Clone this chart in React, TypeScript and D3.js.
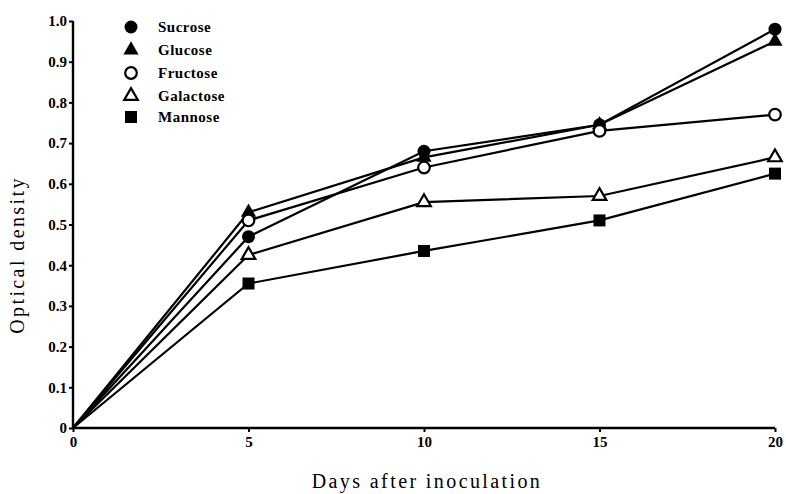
import * as d3 from "d3";
import {useEffect, useRef} from "react";

// days after inoculation
const days = [0, 5, 10, 15, 20];

// optical density per sugar
const sucrose = [0, 0.47, 0.68, 0.745, 0.98];
const glucose = [0, 0.53, 0.665, 0.745, 0.95];
const fructose = [0, 0.51, 0.64, 0.73, 0.77];
const galactose = [0, 0.425, 0.555, 0.57, 0.665];
const mannose = [0, 0.355, 0.435, 0.51, 0.625];

const seriesNames = ["Sucrose", "Glucose", "Fructose", "Galactose", "Mannose"];
const seriesMarkers = ["circleFill", "triangleFill", "circleOpen", "triangleOpen", "squareFill"];

const xTicks = [0, 5, 10, 15, 20];
const yTicks = [0, 0.1, 0.2, 0.3, 0.4, 0.5, 0.6, 0.7, 0.8, 0.9, 1.0];
const yTickLabels = ["0", "0.1", "0.2", "0.3", "0.4", "0.5", "0.6", "0.7", "0.8", "0.9", "1.0"];

export default function App() {
    const ref = useRef(null);

    useEffect(() => {
        const root = d3.select(ref.current);
        root.selectAll("*").remove();

        const width = 786, height = 494;
        const svg = root.append("svg")
            .attr("width", width)
            .attr("height", height)
            .style("position", "absolute")
            .style("left", 0)
            .style("top", 0)
            .style("background", "#fff");

        const font = "'Liberation Serif', 'DejaVu Serif', serif";

        const x = d3.scaleLinear().domain([0, 20]).range([73, 775]);
        const y = d3.scaleLinear().domain([0, 1]).range([428, 21]);

        // axes
        const xAxis = svg.append("g")
            .attr("transform", "translate(0," + y(0) + ")")
            .call(d3.axisBottom(x).tickValues(xTicks).tickSize(4).tickPadding(4).tickFormat(d3.format("d")));
        xAxis.select(".domain").attr("stroke", "#000").attr("stroke-width", 2.4).attr("d", "M" + x(0) + ",0H" + x(20));
        xAxis.selectAll(".tick line").attr("stroke-width", 2);
        xAxis.selectAll(".tick text")
            .attr("font-family", font).attr("font-weight", "bold").attr("font-size", 15).attr("fill", "#000");

        const yAxis = svg.append("g")
            .attr("transform", "translate(" + x(0) + ",0)")
            .call(d3.axisLeft(y).tickValues(yTicks).tickSize(4).tickPadding(2)
                .tickFormat((d, i) => yTickLabels[i]));
        yAxis.select(".domain").attr("stroke", "#000").attr("stroke-width", 2.4).attr("d", "M0," + y(0) + "V" + y(1));
        yAxis.selectAll(".tick line").attr("stroke-width", 2);
        yAxis.selectAll(".tick text")
            .attr("font-family", font).attr("font-weight", "bold").attr("font-size", 15).attr("fill", "#000");

        // axis titles
        svg.append("text")
            .attr("x", 427).attr("y", 488)
            .attr("text-anchor", "middle")
            .attr("font-family", font).attr("font-size", 20)
            .attr("letter-spacing", 2.4)
            .text("Days after inoculation");

        svg.append("text")
            .attr("transform", "translate(24," + 255 + ") rotate(-90)")
            .attr("text-anchor", "middle")
            .attr("font-family", font).attr("font-size", 20)
            .attr("letter-spacing", 2.4)
            .text("Optical density");

        const allSeries = [sucrose, glucose, fructose, galactose, mannose];

        const line = d3.line()
            .x((d, i) => x(days[i]))
            .y(d => y(d));

        // markers
        const drawMarker = (g, kind, cx, cy) => {
            if (kind === "circleFill" || kind === "circleOpen") {
                g.append("circle")
                    .attr("cx", cx).attr("cy", cy).attr("r", kind === "circleFill" ? 6.5 : 5.8)
                    .attr("fill", kind === "circleFill" ? "#000" : "#fff")
                    .attr("stroke", "#000").attr("stroke-width", kind === "circleFill" ? 0 : 2.2);
            } else if (kind === "triangleFill" || kind === "triangleOpen") {
                const tri = d3.symbol().type(d3.symbolTriangle).size(kind === "triangleFill" ? 100 : 80);
                g.append("path")
                    .attr("transform", "translate(" + cx + "," + cy + ")")
                    .attr("d", tri())
                    .attr("fill", kind === "triangleFill" ? "#000" : "#fff")
                    .attr("stroke", "#000").attr("stroke-width", kind === "triangleFill" ? 0 : 2.2);
            } else {
                g.append("rect")
                    .attr("x", cx - 6).attr("y", cy - 6)
                    .attr("width", 12).attr("height", 12)
                    .attr("fill", "#000");
            }
        };

        allSeries.forEach((s) => {
            svg.append("path")
                .datum(s)
                .attr("d", line)
                .attr("fill", "none")
                .attr("stroke", "#000")
                .attr("stroke-width", 2.2);
        });

        allSeries.forEach((s, k) => {
            const g = svg.append("g");
            s.forEach((v, i) => {
                if (i === 0) return;
                drawMarker(g, seriesMarkers[k], x(days[i]), y(v));
            });
        });

        // legend
        const legend = svg.append("g");
        const legendY = [27, 50, 73, 96, 117];
        seriesNames.forEach((name, k) => {
            drawMarker(legend, seriesMarkers[k], 131, legendY[k]);
            legend.append("text")
                .attr("x", 158).attr("y", legendY[k] + 5)
                .attr("font-family", font).attr("font-weight", "bold").attr("font-size", 15)
                .attr("letter-spacing", 0.5)
                .text(name);
        });

    }, []);

    return (<div ref={ref} />);
}
